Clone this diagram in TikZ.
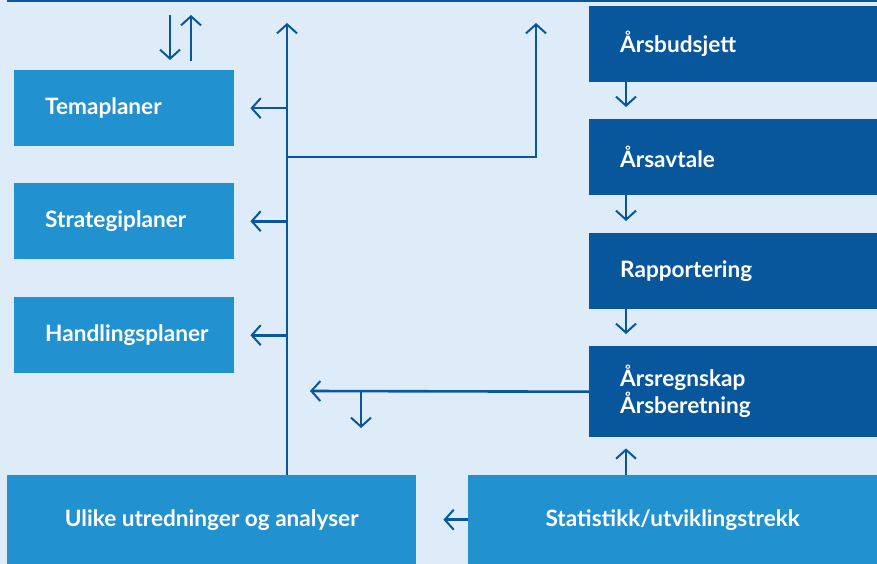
\documentclass[tikz,border=0pt]{standalone}
\usepackage{fontspec}
\setmainfont{Lato}
\usetikzlibrary{arrows.meta}
\definecolor{bakgrunn}{HTML}{DDECF8}
\definecolor{lysblaa}{HTML}{2291D0}
\definecolor{moerkblaa}{HTML}{08579C}
\hyphenpenalty=10000
\tikzset{
	>={Straight Barb[length=9pt,width=20pt,line width=2pt]},
	pil/.style={draw=moerkblaa, line width=2.6pt},
	plan/.style={fill=lysblaa, text=white, anchor=north west, inner xsep=31pt, inner ysep=0pt, text width=158pt, minimum height=76pt, align=left},
	aar/.style={fill=moerkblaa, text=white, anchor=north west, inner xsep=31pt, inner ysep=0pt, text width=226pt, minimum height=76pt, align=left},
	bunn/.style={fill=lysblaa, text=white, anchor=north west, inner sep=0pt, minimum width=409pt, minimum height=89pt, align=center}
}
\begin{document}
\begin{tikzpicture}[x=1pt, y=-1pt, font=\bfseries\fontsize{22.6}{27}\selectfont]
		\fill[bakgrunn] (0,0) rectangle (877,564);
		\useasboundingbox (0,0) rectangle (877,564);
		\draw[moerkblaa, line width=3pt] (7,1) -- (877,1);
		% planer til venstre
		\node[plan] (tema) at (14,70) {Temaplaner};
		\node[plan] (strategi) at (14,183) {Strategiplaner};
		\node[plan] (handling) at (14,297) {Handlingsplaner};
		% budsjettkjeden
		\node[aar] (budsjett) at (589,6) {Årsbudsjett};
		\node[aar] (avtale) at (589,119) {Årsavtale};
		\node[aar] (rapport) at (589,233) {Rapportering};
		\node[aar, minimum height=91pt] (regnskap) at (589,346) {Årsregnskap\\Årsberetning};
		% bunn
		\node[bunn] (ulike) at (7,475) {Ulike utredninger og analyser};
		\node[bunn] (statistikk) at (468,475) {Statistikk/utviklingstrekk};
		\coordinate (stamme) at (287,23);
		\coordinate (knekk) at (287,157);
		\coordinate (grein) at (536,23);
		\coordinate (ned) at (170,15);
		\coordinate (opp) at (191,15);
		\coordinate (mot) at (310,391);
		\coordinate (gren) at (361,391);
		\draw[pil, ->, shorten >=10pt] (ned) -- (ned |- tema.north);
		\draw[pil, ->, shorten <=9pt] (opp |- tema.north) -- (opp);
		\draw[pil, ->] (ulike.north -| stamme) -- (stamme);
		\draw[pil, ->] (knekk) -| (grein);
		\foreach \n in {tema, strategi, handling}
			\draw[pil, ->, shorten >=16pt] (\n.east -| stamme) -- (\n.east);
		\draw[pil, ->, shorten >=12pt] (budsjett.south -| 626,0) -- (avtale.north -| 626,0);
		\draw[pil, ->, shorten >=12pt] (avtale.south -| 626,0) -- (rapport.north -| 626,0);
		\draw[pil, ->, shorten >=12pt] (rapport.south -| 626,0) -- (regnskap.north -| 626,0);
		\draw[pil, ->] (regnskap.west) -- (mot);
		\draw[pil, ->] (gren) -- ++(0,37);
		\draw[pil, ->, shorten >=11pt] (statistikk.north -| 626,0) -- (regnskap.south -| 626,0);
		\draw[pil, ->, shorten >=27pt] (statistikk.west) -- (ulike.east);
	\end{tikzpicture}
\end{document}
